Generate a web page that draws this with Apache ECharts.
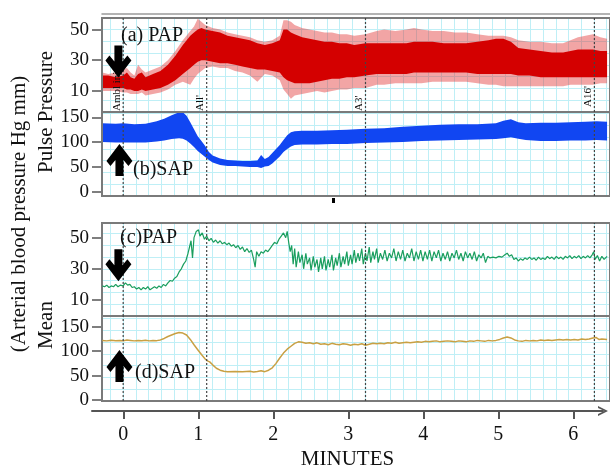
<!DOCTYPE html>
<html><head><meta charset="utf-8">
<script src="https://cdn.jsdelivr.net/npm/echarts@6/dist/echarts.min.js"></script>
<style>html,body{margin:0;padding:0;background:#fff}#c{width:610px;height:471px}</style>
</head><body><div id="c"></div>
<script>
// ---------------- DATA ----------------
const minuteTicks = [0, 1, 2, 3, 4, 5, 6];
const papPulseTicks = [10, 30, 50];
const sapPulseTicks = [0, 50, 100, 150];
const papMeanTicks = [10, 30, 50];
const sapMeanTicks = [0, 50, 100, 150];
const markerTimes = [0, 1.12, 3.25, 6.32];
const markerLabels = ['Ambl inj', "All'", "A3'", "A16'"];
const panelLabels = ['(a) PAP', '(b)SAP', '(c)PAP', '(d)SAP'];

// (a) pulse PAP: dense band (core) and spike envelope
const papPulseTime = [-0.28,-0.2,-0.1,0,0.05,0.1,0.15,0.2,0.25,0.3,0.4,0.5,0.6,0.7,0.8,0.9,0.95,1.0,1.05,1.1,1.2,1.3,1.4,1.5,1.6,1.7,1.8,1.9,2.0,2.1,2.15,2.2,2.25,2.3,2.4,2.5,2.6,2.7,2.8,2.9,3.0,3.1,3.25,3.4,3.5,3.65,3.8,3.9,4.0,4.15,4.3,4.45,4.6,4.75,4.9,5.0,5.1,5.2,5.3,5.45,5.6,5.75,5.9,6.0,6.1,6.2,6.3,6.4,6.49];
const papPulseLow  = [12,12,12,12,11,11,10,10,11,10,11,12,14,17,21,25,27,29,30,30,29,28,28,27,26,25,24,24,23,22,19,17,16,15,15,15,16,17,18,18,19,19,20,21,21,21,21,22,22,22,22,22,22,21,21,21,21,21,20,20,19,19,19,19,19,19,19,19,19];
const papPulseHigh = [20,20,19,20,22,19,18,21,22,19,21,23,27,33,40,46,48,50,51,50,49,48,46,45,44,43,41,40,41,43,50,50,48,47,45,44,43,42,42,41,41,40,41,41,41,41,41,42,42,42,41,41,41,42,43,44,44,42,38,37,36,35,35,36,37,37,37,36,36];
const papPulseSpikeLow  = [10,10,10,9,9,8,8,8,9,7,8,9,11,14,16,14,18,21,23,25,26,25,25,23,22,20,16,21,20,17,11,8,5,7,8,9,10,9,10,11,11,12,12,14,14,15,15,15,15,16,16,16,16,15,14,14,13,13,13,13,13,13,13,14,14,14,14,15,15];
const papPulseSpikeHigh = [22,21,22,24,25,22,20,27,24,22,24,26,30,36,43,49,52,57,55,53,51,50,48,47,46,45,43,42,43,46,56,56,55,53,51,50,49,48,48,47,47,46,47,49,50,49,50,51,50,49,49,48,48,47,46,46,46,45,43,42,42,41,41,43,45,46,47,45,44];

// (b) pulse SAP band
const sapPulseTime = [-0.28,-0.1,0,0.15,0.3,0.45,0.55,0.65,0.75,0.8,0.85,0.9,0.95,1.0,1.05,1.1,1.15,1.2,1.3,1.4,1.5,1.6,1.7,1.8,1.85,1.9,1.95,2.0,2.05,2.1,2.15,2.2,2.25,2.3,2.4,2.6,2.8,3.0,3.25,3.5,3.75,4.0,4.25,4.5,4.75,5.0,5.1,5.2,5.3,5.4,5.6,5.8,6.0,6.2,6.35,6.49];
const sapPulseLow  = [100,99,99,99,99,101,103,106,108,107,103,97,90,82,76,70,64,59,54,52,52,51,50,50,48,51,52,57,64,71,80,86,91,94,95,95,96,96,98,99,100,102,103,104,105,106,108,110,107,104,102,102,103,103,104,103];
const sapPulseHigh = [138,137,138,136,137,142,147,154,160,160,153,140,126,112,102,92,80,73,67,64,63,62,62,63,74,66,70,78,86,94,104,114,120,122,123,123,124,125,127,128,131,133,135,136,136,138,143,146,140,138,139,139,140,141,142,141];

// (c) mean PAP [minutes, value]
const papMean = [[-0.28,19],[-0.25,18.5],[-0.22,19.5],[-0.19,18],[-0.16,19],[-0.13,18.5],[-0.10,20],[-0.07,18.5],[-0.04,19.5],[0.00,19],[0.03,21],[0.06,19.5],[0.09,20],[0.12,18],[0.15,18.5],[0.18,17],[0.21,18],[0.24,16.5],[0.27,18],[0.30,17],[0.33,18.5],[0.36,16.5],[0.39,17.5],[0.42,18.5],[0.45,17.5],[0.48,19],[0.51,18],[0.54,20],[0.57,19],[0.60,21],[0.63,22.5],[0.66,22],[0.69,24],[0.72,25],[0.75,28],[0.78,30],[0.81,33],[0.84,35],[0.87,40],[0.89,44],[0.91,48],[0.93,37],[0.95,50],[0.98,54],[1.01,55],[1.03,51],[1.06,53],[1.09,49],[1.12,51],[1.15,48],[1.18,49.5],[1.21,47],[1.24,48.5],[1.27,46.5],[1.30,48],[1.33,46],[1.36,47],[1.39,45.5],[1.42,46.5],[1.45,44.5],[1.48,45.5],[1.51,43.5],[1.54,45],[1.57,42.5],[1.60,44],[1.63,41],[1.66,43],[1.69,40.5],[1.72,42],[1.75,36],[1.77,31],[1.79,41],[1.82,38],[1.85,41],[1.88,40],[1.91,42],[1.94,41],[1.97,43],[2.00,45],[2.03,47],[2.06,46],[2.09,49],[2.12,51],[2.15,53],[2.18,50],[2.20,54],[2.22,47],[2.24,41],[2.26,45],[2.28,33],[2.30,43],[2.32,31],[2.35,41],[2.37,34],[2.40,39],[2.42,30],[2.45,40],[2.47,33],[2.50,37],[2.52,29],[2.55,38],[2.57,31],[2.60,36],[2.62,28],[2.65,37],[2.67,30],[2.70,38],[2.72,29],[2.75,36],[2.77,31],[2.80,39],[2.82,29],[2.85,37],[2.87,32],[2.90,40],[2.92,31],[2.95,38],[2.97,33],[3.00,41],[3.02,32],[3.05,39],[3.07,33],[3.10,42],[3.12,34],[3.15,40],[3.17,35],[3.20,43],[3.22,33],[3.25,40],[3.27,35],[3.30,44],[3.32,34],[3.35,41],[3.37,36],[3.40,43],[3.42,34],[3.45,40],[3.48,36],[3.51,42],[3.54,35],[3.57,40],[3.60,37],[3.63,43],[3.66,35],[3.69,41],[3.72,36],[3.75,42],[3.78,35],[3.81,40],[3.84,37],[3.87,43],[3.90,35],[3.93,41],[3.96,36],[3.99,42],[4.02,35],[4.05,41],[4.08,36],[4.11,42],[4.14,35],[4.17,41],[4.20,37],[4.23,42],[4.26,35],[4.29,40],[4.32,36],[4.35,41],[4.38,35],[4.41,40],[4.44,37],[4.47,42],[4.50,36],[4.53,40],[4.56,35],[4.59,41],[4.62,37],[4.65,40],[4.68,36],[4.71,41],[4.74,35],[4.77,39],[4.80,37],[4.83,40],[4.86,34],[4.89,38],[4.92,37],[4.96,37.5],[5.00,37],[5.04,38],[5.08,37.5],[5.12,39],[5.15,40],[5.18,38],[5.21,39],[5.24,36],[5.27,37],[5.30,35],[5.33,36.5],[5.36,35.5],[5.39,37],[5.42,36],[5.45,37.5],[5.48,36],[5.51,37],[5.54,35.5],[5.57,37.5],[5.60,36],[5.63,37],[5.66,36],[5.69,38],[5.72,36.5],[5.75,37.5],[5.78,36],[5.81,38],[5.84,36.5],[5.87,37.5],[5.90,36],[5.93,38],[5.96,37],[5.99,38.5],[6.02,36.5],[6.05,38],[6.08,37],[6.11,38.5],[6.14,36.5],[6.17,38],[6.20,37],[6.23,38.5],[6.26,37],[6.29,39],[6.31,41],[6.33,36],[6.36,38.5],[6.39,35],[6.42,38],[6.45,36],[6.49,38]];

// (d) mean SAP [minutes, value]
const sapMean = [[-0.28,122],[-0.22,121],[-0.16,122.5],[-0.1,121.5],[-0.04,122],[0,121],[0.05,123],[0.1,122],[0.15,121],[0.2,122],[0.25,121.5],[0.3,122.5],[0.35,121],[0.4,122],[0.45,121.5],[0.5,123],[0.55,126],[0.6,130],[0.65,133],[0.7,136],[0.75,138],[0.8,137],[0.85,133],[0.9,124],[0.95,113],[1.0,103],[1.05,93],[1.1,84],[1.13,80],[1.16,78],[1.2,72],[1.25,65],[1.3,61],[1.35,59],[1.4,58],[1.5,58.5],[1.6,58],[1.7,59],[1.75,57.5],[1.8,58.5],[1.85,60],[1.9,58],[1.95,61],[2.0,66],[2.05,75],[2.1,86],[2.15,96],[2.2,104],[2.25,110],[2.3,116],[2.35,119],[2.4,118],[2.45,116],[2.5,117],[2.55,115],[2.6,117],[2.65,114],[2.7,115],[2.75,113],[2.8,116],[2.85,114],[2.9,113],[2.95,115],[3.0,114],[3.05,112],[3.1,114],[3.15,113],[3.2,115],[3.25,112],[3.3,114],[3.35,116],[3.4,115],[3.45,116],[3.5,115],[3.55,117],[3.6,116],[3.65,118],[3.7,116],[3.75,117],[3.8,118],[3.85,117],[3.9,118],[3.95,119],[4.0,118],[4.05,120],[4.1,119],[4.15,120],[4.2,121],[4.25,119],[4.3,120],[4.35,121],[4.4,120],[4.45,119],[4.5,121],[4.55,120],[4.6,119],[4.65,121],[4.7,120],[4.75,122],[4.8,121],[4.85,120],[4.9,122],[4.95,121],[5.0,122],[5.05,124],[5.1,127],[5.15,129],[5.2,127],[5.25,123],[5.3,121],[5.35,120],[5.4,122],[5.45,121],[5.5,122],[5.55,121],[5.6,123],[5.65,122],[5.7,123],[5.75,122],[5.8,123],[5.85,124],[5.9,123],[5.95,124],[6.0,123],[6.05,124],[6.1,123],[6.15,125],[6.2,124],[6.25,125],[6.3,127],[6.34,128],[6.38,124],[6.42,125],[6.49,124]];

// ---------------- LAYOUT ----------------
const FONT = 'Liberation Serif';
const PX_PER_MIN = 75, X0PX = 123.3;
const LEFT = 102, RIGHT = -3, W = 610;
const xMin = (LEFT - X0PX) / PX_PER_MIN;
const xMax = (W - RIGHT - X0PX) / PX_PER_MIN;
const panels = [
  {top: 18,  height: 94, min: -3.7, max: 57.5,  ticks: papPulseTicks},
  {top: 112, height: 84, min: -8.7, max: 160.7, ticks: sapPulseTicks},
  {top: 223, height: 93, min: -0.3, max: 59.4,  ticks: papMeanTicks},
  {top: 316, height: 85, min: -2,   max: 171.9, ticks: sapMeanTicks}
];
const GRID_COLOR = '#bfeff6';
const VLEFT = 110.5, CELLW = 12.8, CELLH = 11.8;
const labelLift = [1, 1, 1, 5];           // px above panel bottom for marker labels
const chevron = 'path://M5,0 L10,10 L8,10 L5,3.5 L2,10 L0,10 Z';
// big arrows: anchor (data units of each panel), pointing down (1) or up (-1)
const arrowAnchors = [[-0.064, 29.2, 1], [-0.05, 64, -1], [-0.064, 32.2, 1], [-0.05, 69.5, -1]];

const HIDDEN = {show: false, axisLine: {show: false}, axisTick: {show: false}, axisLabel: {show: false}, splitLine: {show: false}, splitArea: {show: false}};

const grids = [];
panels.forEach(p => grids.push({left: LEFT, right: RIGHT, top: p.top, height: p.height, show: true,
  borderColor: '#7a7a7a', borderWidth: 2, backgroundColor: 'transparent', z: 3}));
panels.forEach(p => grids.push({left: VLEFT, right: RIGHT, top: p.top, height: p.height, show: false}));
grids.push({left: 92, right: 7, top: 402, height: 10, show: false});

const xAxes = [], yAxes = [];
panels.forEach((p, i) => xAxes.push(Object.assign({type: 'value', gridIndex: i, min: xMin, max: xMax}, HIDDEN)));
panels.forEach((p, i) => xAxes.push({type: 'value', gridIndex: 4 + i, min: 0, max: (W - RIGHT - VLEFT) / CELLW, interval: 1,
  axisLine: {show: false, onZero: false}, axisTick: {show: false}, axisLabel: {show: false}, minorSplitLine: {show: false},
  splitLine: {show: true, lineStyle: {color: GRID_COLOR, width: 1}}}));
xAxes.push({type: 'value', gridIndex: 8, min: (92 - X0PX) / PX_PER_MIN, max: (603 - X0PX) / PX_PER_MIN, position: 'bottom',
  axisLine: {show: true, onZero: false, symbol: ['none', chevron], symbolSize: [10, 11], lineStyle: {color: '#555', width: 2}},
  axisTick: {show: true, customValues: minuteTicks, length: 8, lineStyle: {color: '#555', width: 2}},
  axisLabel: {show: true, customValues: minuteTicks, fontFamily: FONT, fontSize: 20, color: '#111', margin: 14},
  splitLine: {show: false},
  name: 'MINUTES', nameLocation: 'middle', nameGap: 38,
  nameTextStyle: {fontFamily: FONT, fontSize: 21, color: '#111'}});
// extra top line of the double frame
xAxes.push({type: 'value', gridIndex: 0, min: xMin, max: xMax, position: 'top', offset: 4,
  axisLine: {show: true, onZero: false, lineStyle: {color: '#9a9a9a', width: 1.5}}, axisTick: {show: false}, axisLabel: {show: false}, splitLine: {show: false}});

panels.forEach((p, i) => yAxes.push({type: 'value', gridIndex: i, min: p.min, max: p.max, position: 'left',
  axisLine: {show: false, onZero: false},
  axisTick: {show: true, customValues: p.ticks, length: 10, lineStyle: {color: '#555', width: 1.5}},
  axisLabel: {show: true, customValues: p.ticks, fontFamily: FONT, fontSize: 19, color: '#111', margin: 13},
  splitLine: {show: false}}));
panels.forEach((p, i) => yAxes.push({type: 'value', gridIndex: i, min: 0, max: p.height / CELLH, interval: 1, position: 'right',
  axisLine: {show: false, onZero: false}, axisTick: {show: false}, axisLabel: {show: false}, minorSplitLine: {show: false},
  splitLine: {show: true, lineStyle: {color: GRID_COLOR, width: 1}}}));
panels.forEach((p, i) => yAxes.push(Object.assign({type: 'value', gridIndex: 4 + i, min: 0, max: 1}, HIDDEN)));
yAxes.push(Object.assign({type: 'value', gridIndex: 8, min: 0, max: 1}, HIDDEN));

function band(xi, time, lo, hi, color, z) {
  return {type: 'custom', xAxisIndex: xi, yAxisIndex: xi, z: z, silent: true, clip: true,
    data: time.map((t, i) => [t, lo[i], hi[i]]),
    encode: {x: 0, y: [1, 2]},
    renderItem: function (params, api) {
      if (params.dataIndex !== 0) return null;
      const pts = [];
      for (let i = 0; i < time.length; i++) pts.push(api.coord([time[i], hi[i]]));
      for (let i = time.length - 1; i >= 0; i--) pts.push(api.coord([time[i], lo[i]]));
      return {type: 'polygon', shape: {points: pts}, style: {fill: color}};
    }};
}
// dotted vertical event markers (and their labels in panel a)
function markerSeries(pi, withLabels) {
  const p = panels[pi];
  return {type: 'custom', xAxisIndex: pi, yAxisIndex: pi, z: 6, silent: true, clip: false,
    data: markerTimes.map((t, k) => [t, k]),
    encode: {x: 0},
    renderItem: function (params, api) {
      const t = api.value(0), k = api.value(1);
      const b = api.coord([t, p.min]), tp = api.coord([t, p.max]);
      const children = [{type: 'line', shape: {x1: b[0], y1: b[1], x2: tp[0], y2: tp[1]},
        style: {stroke: '#444', lineWidth: 1.2, lineDash: [2, 2]}}];
      if (withLabels) children.push({type: 'text', x: b[0] - 1, y: b[1] - labelLift[k], rotation: Math.PI / 2,
        style: {text: markerLabels[k], font: '11px "' + FONT + '"', fill: '#111', align: 'left', verticalAlign: 'bottom'}});
      return {type: 'group', children: children};
    }};
}

const series = [
  band(0, papPulseTime, papPulseSpikeLow, papPulseSpikeHigh, 'rgba(225,40,40,0.42)', 2),
  band(0, papPulseTime, papPulseLow, papPulseHigh, '#d40000', 2),
  markerSeries(0, true),
  band(1, sapPulseTime, sapPulseLow, sapPulseHigh, '#1146f2', 2),
  markerSeries(1, false),
  {type: 'line', name: 'papMean', xAxisIndex: 2, yAxisIndex: 2, symbol: 'none', silent: true,
    lineStyle: {color: '#1a9e5e', width: 1.2}, data: papMean},
  markerSeries(2, false),
  {type: 'line', name: 'sapMean', xAxisIndex: 3, yAxisIndex: 3, symbol: 'none', silent: true,
    lineStyle: {color: '#c9a043', width: 1.5}, data: sapMean},
  markerSeries(3, false)
];

const txt = (x, y, s, size, rot, align) => ({type: 'text', x: x, y: y, rotation: rot || 0, z: 100,
  style: {text: s, fill: '#111', font: size + 'px "' + FONT + '"', align: align || 'left', textAlign: align || 'left', verticalAlign: 'middle', textVerticalAlign: 'middle'}});

const baseGraphic = [
  txt(19, 214, '(Arterial blood pressure Hg mm)', 21, Math.PI / 2, 'center'),
  txt(46, 112, 'Pulse Pressure', 21, Math.PI / 2, 'center'),
  txt(46, 325, 'Mean', 21, Math.PI / 2, 'center'),
  txt(121, 36, panelLabels[0], 20),
  txt(133, 170, panelLabels[1], 20),
  txt(120, 238, panelLabels[2], 20),
  txt(135, 373, panelLabels[3], 20),
  {type: 'rect', shape: {x: 332, y: 198, width: 3, height: 5}, style: {fill: '#000'}, z: 100}
];

const option = {
  animation: false,
  backgroundColor: '#fff',
  grid: grids, xAxis: xAxes, yAxis: yAxes, series: series,
  graphic: baseGraphic
};
const chart = echarts.init(document.getElementById('c'), null, {renderer: 'canvas'});
chart.setOption(option);

// big black arrows, placed from panel data coordinates
const arrows = arrowAnchors.map((a, i) => {
  const c = chart.convertToPixel({xAxisIndex: i, yAxisIndex: i}, [a[0], a[1]]);
  const d = a[2]; // 1 = points down
  const p = (dx, dy) => [c[0] + dx, c[1] + d * dy];
  return {type: 'polygon', z: 100, silent: true,
    shape: {points: [p(-4, -16), p(4, -16), p(4, 0), p(9, -6), p(13, -1), p(0, 16), p(-13, -1), p(-9, -6), p(-4, 0)]},
    style: {fill: '#000'}};
});
chart.setOption({graphic: baseGraphic.concat(arrows)});
</script></body></html>
